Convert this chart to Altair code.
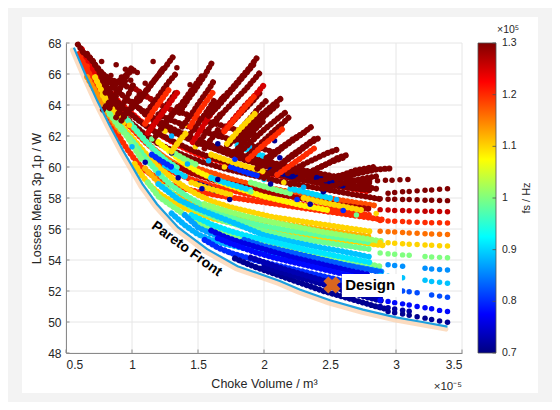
import altair as alt
import pandas as pd

FONT = "Liberation Sans"
TXT = "#262626"
AXC = "#8a8a8a"

X_TICKS = [0.5, 1.0, 1.5, 2.0, 2.5, 3.0, 3.5]
Y_TICKS = [48, 50, 52, 54, 56, 58, 60, 62, 64, 66, 68]
CB_TICKS = [0.7, 0.8, 0.9, 1.0, 1.1, 1.2, 1.3]
CB_LABELS = ["0.7", "0.8", "0.9", "1", "1.1", "1.2", "1.3"]

# Pareto front (volume x1e-5 m^3, losses W)
pareto_v = [0.56, 0.65, 0.735, 0.83, 0.93, 1.08, 1.19, 1.35, 1.57, 1.8, 2.12, 2.27, 2.5, 2.75, 3.0, 3.2, 3.39]
pareto_L = [67.7, 65.9, 64.3, 62.7, 61.1, 58.9, 57.6, 56.1, 54.7, 53.6, 52.65, 52.1, 51.4, 50.8, 50.3, 50.0, 49.7]

# strands: (fs in 1e5 Hz, volumes, losses)
strands_red = [
    (1.2, [0.60, 0.62, 0.67, 0.72, 0.78, 0.84, 0.90, 0.96, 1.02, 1.08, 1.15, 1.25, 1.35, 1.50, 1.70, 1.90, 2.10, 2.30, 2.50, 2.70, 2.90],
          [67.3, 66.9, 66.0, 65.1, 64.0, 63.0, 62.0, 61.2, 60.5, 59.9, 59.5, 59.0, 58.7, 58.4, 58.1, 57.85, 57.6, 57.35, 57.1, 56.85, 56.6]),
    (1.2, [0.64, 0.70, 0.76, 0.82, 0.88, 0.95, 1.02, 1.10, 1.20, 1.30, 1.45, 1.60, 1.80, 2.00, 2.20, 2.40, 2.60, 2.80],
          [66.9, 66.0, 65.1, 64.3, 63.6, 62.9, 62.3, 61.6, 60.9, 60.3, 59.7, 59.3, 58.9, 58.5, 58.2, 57.9, 57.6, 57.3]),
    (1.22, [0.72, 0.78, 0.84, 0.90, 0.98, 1.06, 1.15, 1.25, 1.35, 1.50, 1.65, 1.80, 2.00, 2.20, 2.40, 2.60, 2.80],
           [66.1, 65.4, 64.8, 64.2, 63.6, 63.0, 62.4, 61.9, 61.4, 60.8, 60.4, 60.0, 59.6, 59.3, 59.0, 58.7, 58.4]),
    (1.16, [0.74, 0.80, 0.87, 0.94, 1.00, 1.08, 1.16, 1.25, 1.35, 1.45],
           [65.9, 65.0, 64.0, 63.2, 62.6, 61.9, 61.2, 60.6, 60.1, 59.6]),
    (1.2, [1.15, 1.30, 1.45, 1.60, 1.75, 1.90, 2.05, 2.20, 2.35, 2.50, 2.65, 2.80],
          [60.4, 59.7, 59.2, 58.8, 58.5, 58.2, 57.95, 57.7, 57.5, 57.3, 57.1, 56.9]),
    (1.18, [1.50, 1.65, 1.80, 1.95, 2.10, 2.25, 2.40, 2.55, 2.70, 2.85],
           [59.9, 59.5, 59.1, 58.8, 58.55, 58.3, 58.1, 57.9, 57.7, 57.5]),
    (1.24, [0.62, 0.66, 0.70, 0.75, 0.80, 0.86, 0.92, 0.98],
           [67.6, 67.0, 66.4, 65.7, 65.0, 64.3, 63.6, 63.0]),
    (1.14, [0.66, 0.70, 0.75, 0.80, 0.86, 0.92], [65.8, 65.2, 64.5, 63.7, 62.9, 62.2]),
]
strands_darkred = [
    (1.3, [0.59, 0.63, 0.70, 0.74, 0.78, 0.83, 0.88, 0.95, 1.05, 1.15, 1.30, 1.45, 1.60, 1.80, 2.00, 2.20, 2.40, 2.60, 2.80],
          [67.9, 67.4, 66.9, 66.3, 65.7, 64.9, 64.3, 63.7, 63.0, 62.4, 61.7, 61.1, 60.6, 60.1, 59.7, 59.3, 59.0, 58.7, 58.5]),
    (1.3, [0.75, 0.82, 0.90, 1.00, 1.10, 1.20, 1.35, 1.50, 1.70, 1.90, 2.10, 2.30, 2.50, 2.70, 2.90],
          [65.5, 64.5, 63.6, 62.8, 62.1, 61.5, 60.9, 60.4, 59.9, 59.5, 59.1, 58.8, 58.5, 58.2, 57.9]),
    (1.28, [1.30, 1.45, 1.60, 1.80, 2.00, 2.20, 2.40, 2.60, 2.80],
           [60.2, 59.6, 59.2, 58.8, 58.4, 58.1, 57.8, 57.5, 57.3]),
    (1.3, [1.00, 1.10, 1.20, 1.30, 1.40, 1.55, 1.70, 1.85, 2.00, 2.15, 2.30, 2.45, 2.60],
          [64.2, 63.4, 62.8, 62.3, 61.9, 61.4, 61.0, 60.6, 60.3, 60.0, 59.7, 59.45, 59.2]),
    (1.3, [0.78, 0.84, 0.90, 0.96], [66.0, 65.6, 65.5, 65.2]),
    (1.3, [0.66, 0.72, 0.80, 0.88, 0.97, 1.07, 1.18, 1.30, 1.45, 1.60, 1.75, 1.90, 2.05, 2.20, 2.35, 2.50, 2.65, 2.80],
          [67.3, 66.6, 65.8, 65.0, 64.3, 63.7, 63.1, 62.5, 61.9, 61.4, 61.0, 60.6, 60.3, 60.0, 59.7, 59.45, 59.2, 58.95]),
    (1.3, [1.50, 1.65, 1.80, 1.95, 2.10, 2.25, 2.40, 2.55, 2.70, 2.85],
          [61.6, 61.1, 60.6, 60.2, 59.85, 59.55, 59.3, 59.05, 58.8, 58.6]),
    (1.3, [1.20, 1.30, 1.40, 1.50, 1.60, 1.70, 1.80, 1.90, 2.00, 2.10],
          [63.4, 63.0, 62.7, 62.4, 62.15, 61.9, 61.65, 61.4, 61.15, 60.9]),
    (1.3, [1.38, 1.46, 1.55, 1.65, 1.75, 1.85, 1.95], [63.5, 63.25, 63.0, 62.75, 62.5, 62.25, 62.0]),
    (1.28, [1.00, 1.08, 1.16, 1.24, 1.32], [65.2, 64.7, 64.3, 63.9, 63.6]),
]
strands_yellow = [
    (1.1, [1.02, 1.08, 1.15, 1.22, 1.30, 1.40, 1.50, 1.60, 1.70, 1.80, 1.90, 2.00, 2.15, 2.30, 2.45, 2.60, 2.75, 2.90],
          [60.2, 59.4, 58.7, 58.2, 57.8, 57.35, 57.0, 56.7, 56.5, 56.3, 56.15, 56.0, 55.8, 55.6, 55.4, 55.25, 55.1, 54.95]),
    (1.1, [0.78, 0.84, 0.90, 0.96, 1.02, 1.10, 1.20, 1.30, 1.40, 1.50, 1.60, 1.75, 1.90, 2.05, 2.20, 2.40, 2.60, 2.80],
          [64.6, 63.7, 62.9, 62.3, 61.7, 60.9, 60.0, 59.3, 58.7, 58.2, 57.8, 57.4, 57.1, 56.8, 56.6, 56.35, 56.1, 55.85]),
    (1.08, [1.20, 1.30, 1.40, 1.50, 1.60, 1.70, 1.85, 2.00, 2.15, 2.30, 2.50],
           [61.6, 60.9, 60.2, 59.7, 59.3, 58.9, 58.5, 58.1, 57.8, 57.5, 57.2]),
    (1.1, [0.72, 0.77, 0.82, 0.88, 0.94], [65.8, 64.9, 64.1, 63.4, 62.8]),
    (1.12, [1.10, 1.20, 1.30, 1.40, 1.50, 1.60, 1.75, 1.90, 2.05, 2.20, 2.40, 2.60, 2.80],
           [59.9, 59.0, 58.35, 57.85, 57.5, 57.25, 56.95, 56.7, 56.45, 56.25, 56.0, 55.75, 55.5]),
]
strands_green = [
    (1.0, [1.12, 1.20, 1.30, 1.40, 1.50, 1.60, 1.70, 1.80, 1.90, 2.00, 2.15, 2.30, 2.45, 2.60, 2.75, 2.90],
          [59.0, 58.1, 57.5, 56.9, 56.4, 56.0, 55.7, 55.45, 55.2, 55.0, 54.75, 54.5, 54.3, 54.05, 53.8, 53.55]),
    (0.98, [0.88, 0.95, 1.02, 1.10, 1.20, 1.30, 1.40, 1.50, 1.65, 1.80, 2.00, 2.20, 2.40, 2.60, 2.80],
           [63.0, 62.2, 61.5, 60.6, 59.6, 58.8, 58.2, 57.7, 57.1, 56.6, 56.2, 55.9, 55.65, 55.4, 55.15]),
    (1.01, [1.55, 1.70, 1.85, 2.00, 2.15, 2.30, 2.45, 2.60, 2.75, 2.90],
           [57.6, 57.2, 56.85, 56.55, 56.3, 56.05, 55.8, 55.6, 55.4, 55.2]),
    (0.97, [0.95, 1.02, 1.10, 1.18, 1.26, 1.35], [63.2, 62.5, 61.7, 61.0, 60.4, 59.9]),
    (0.99, [1.25, 1.35, 1.45, 1.55, 1.70, 1.85, 2.00, 2.20, 2.40, 2.60, 2.80],
           [58.7, 57.95, 57.4, 57.0, 56.5, 56.15, 55.85, 55.5, 55.2, 54.95, 54.7]),
    (1.0, [0.80, 0.85, 0.90, 0.96, 1.02, 1.08], [63.9, 63.2, 62.6, 62.0, 61.2, 60.4]),
]
strands_cyan = [
    (0.88, [1.30, 1.40, 1.50, 1.60, 1.70, 1.80, 1.90, 2.00, 2.15, 2.30, 2.45, 2.60, 2.75, 2.90],
           [57.0, 56.25, 55.65, 55.3, 55.05, 54.85, 54.65, 54.5, 54.15, 53.85, 53.5, 53.2, 52.95, 52.7]),
    (0.89, [1.20, 1.35, 1.50, 1.65, 1.80, 2.00, 2.20, 2.40, 2.60, 2.80],
           [58.9, 57.9, 57.3, 56.8, 56.3, 55.6, 55.2, 54.85, 54.55, 54.2]),
    (0.91, [1.45, 1.60, 1.75, 1.90, 2.05, 2.20, 2.35, 2.50, 2.65, 2.80],
           [56.9, 56.3, 55.85, 55.5, 55.2, 54.9, 54.6, 54.35, 54.1, 53.85]),
    (0.87, [1.40, 1.50, 1.60, 1.70, 1.85, 2.00, 2.15, 2.30, 2.50, 2.70, 2.90],
           [56.9, 56.1, 55.7, 55.4, 55.1, 54.85, 54.55, 54.25, 53.9, 53.55, 53.25]),
]
strands_blue = [
    (0.8, [1.55, 1.65, 1.75, 1.85, 1.95, 2.05, 2.15, 2.25, 2.35, 2.45, 2.55, 2.65, 2.75, 2.85],
          [55.3, 54.8, 54.45, 54.2, 53.95, 53.75, 53.55, 53.35, 53.15, 52.95, 52.75, 52.55, 52.35, 52.15]),
    (0.83, [1.85, 2.00, 2.15, 2.30, 2.45, 2.60, 2.75, 2.90], [55.3, 54.9, 54.6, 54.3, 54.0, 53.7, 53.45, 53.2]),
    (0.76, [1.60, 1.70, 1.80, 1.90, 2.00, 2.10, 2.20, 2.35, 2.50, 2.65, 2.80],
           [55.9, 55.5, 55.2, 54.95, 54.7, 54.45, 54.2, 53.9, 53.6, 53.3, 53.05]),
    (0.78, [1.65, 1.75, 1.85, 1.95, 2.10, 2.25, 2.40, 2.55, 2.70, 2.85],
           [55.4, 55.05, 54.75, 54.45, 54.1, 53.8, 53.5, 53.2, 52.9, 52.6]),
]
strands_navy = [
    (0.71, [1.78, 1.86, 1.95, 2.05, 2.15, 2.25, 2.35, 2.45, 2.55, 2.65, 2.75, 2.85, 2.92],
           [54.1, 53.8, 53.5, 53.2, 52.9, 52.6, 52.3, 52.0, 51.75, 51.5, 51.25, 51.0, 50.85]),
    (0.72, [2.00, 2.10, 2.20, 2.30, 2.40, 2.50, 2.60, 2.70, 2.80, 2.90],
           [53.55, 53.3, 53.05, 52.8, 52.55, 52.3, 52.05, 51.8, 51.55, 51.35]),
    (0.73, [1.90, 2.00, 2.10, 2.20, 2.30, 2.40, 2.50, 2.60, 2.70, 2.80, 2.90],
           [54.15, 53.85, 53.55, 53.3, 53.05, 52.8, 52.55, 52.3, 52.05, 51.8, 51.6]),
]
strands_mixed = [
    (0.9, [1.25, 1.33, 1.41], [60.1, 59.7, 59.35]),
    (0.71, [1.50, 1.58, 1.66], [58.9, 58.65, 58.4]),
    (0.9, [1.60, 1.70, 1.80, 1.90], [59.3, 59.0, 58.75, 58.5]),
    (1.1, [1.45, 1.55, 1.65, 1.75], [59.0, 58.7, 58.45, 58.2]),
    (0.8, [1.75, 1.85, 1.95], [60.0, 59.7, 59.45]),
    (1.0, [1.90, 2.00, 2.10, 2.20], [59.0, 58.75, 58.5, 58.3]),
    (0.71, [2.05, 2.15, 2.25], [59.8, 59.55, 59.3]),
    (0.9, [2.20, 2.30, 2.40, 2.50], [58.6, 58.4, 58.2, 58.0]),
    (1.1, [2.30, 2.45, 2.60, 2.75], [58.0, 57.7, 57.45, 57.2]),
    (0.71, [2.40, 2.50, 2.60], [59.3, 59.05, 58.8]),
    (1.0, [1.30, 1.40, 1.50], [61.0, 60.5, 60.1]),
    (0.8, [1.15, 1.22, 1.30], [60.8, 60.4, 60.0]),
    (1.1, [1.60, 1.70, 1.80, 1.90, 2.00], [60.8, 60.5, 60.2, 59.95, 59.7]),
    (0.9, [1.80, 1.90, 2.00], [61.4, 61.0, 60.7]),
]
spikes = [
    (1.3, [0.83, 0.88, 0.93, 0.97, 1.01], [63.8, 64.6, 65.4, 66.0, 66.6]),
    (1.3, [0.88, 0.93, 0.98, 1.02], [63.2, 64.0, 64.8, 65.5]),
    (1.3, [0.78, 0.84, 0.90, 0.96], [63.7, 64.3, 65.0, 65.7]),
    (1.3, [0.80, 0.86, 0.92, 0.98, 1.04], [64.8, 65.2, 65.7, 66.1, 66.3]),
    (1.3, [0.92, 0.97, 1.02, 1.06], [63.0, 63.6, 64.2, 64.7]),
    (1.3, [1.06, 1.12, 1.18, 1.24, 1.31], [64.3, 65.0, 65.7, 66.3, 67.1]),
    (1.3, [1.10, 1.16, 1.22, 1.28, 1.33], [63.4, 64.1, 64.8, 65.5, 66.0]),
    (1.3, [1.15, 1.22, 1.28, 1.34], [62.6, 63.5, 64.2, 64.9]),
    (1.3, [1.00, 1.06, 1.12, 1.18, 1.24], [63.8, 64.4, 65.1, 65.7, 66.4]),
    (1.25, [1.12, 1.18, 1.24, 1.30, 1.36], [62.2, 62.9, 63.6, 64.3, 65.0]),
    (1.3, [1.18, 1.24, 1.30, 1.36], [62.0, 62.7, 63.4, 64.0]),
    (1.3, [1.36, 1.42, 1.48, 1.55, 1.61], [63.5, 64.3, 65.0, 65.9, 66.8]),
    (1.3, [1.38, 1.45, 1.52, 1.58, 1.63], [62.6, 63.4, 64.3, 65.0, 65.7]),
    (1.3, [1.42, 1.50, 1.57, 1.63], [61.9, 62.8, 63.6, 64.4]),
    (1.3, [1.30, 1.36, 1.42, 1.48, 1.54], [63.3, 63.9, 64.6, 65.3, 66.0]),
    (1.25, [1.46, 1.52, 1.58, 1.64, 1.70], [61.6, 62.4, 63.2, 63.9, 64.6]),
    (1.3, [1.50, 1.56, 1.62, 1.68], [61.5, 62.2, 62.9, 63.5]),
    (1.3, [1.55, 1.60, 1.66], [61.2, 61.8, 62.5]),
    (1.3, [1.61, 1.68, 1.75, 1.82, 1.89, 1.96], [63.7, 64.4, 65.0, 65.7, 66.4, 67.2]),
    (1.3, [1.62, 1.70, 1.78, 1.86, 1.93, 1.98], [62.8, 63.6, 64.3, 65.0, 65.7, 66.2]),
    (1.3, [1.66, 1.75, 1.84, 1.92, 1.98], [62.0, 62.8, 63.6, 64.3, 64.9]),
    (1.3, [1.58, 1.65, 1.72, 1.79, 1.86, 1.92], [63.3, 63.9, 64.6, 65.3, 66.0, 66.6]),
    (1.3, [1.72, 1.80, 1.88, 1.96, 2.02], [61.4, 62.2, 63.0, 63.8, 64.3]),
    (1.25, [1.70, 1.78, 1.86, 1.94, 2.00], [62.4, 63.2, 64.0, 64.7, 65.3]),
    (1.3, [1.78, 1.86, 1.94, 2.00], [61.0, 61.7, 62.5, 63.0]),
    (1.3, [1.74, 1.84, 1.94, 2.04, 2.14], [61.5, 62.3, 63.1, 63.8, 64.5]),
    (1.3, [1.80, 1.90, 2.00, 2.10, 2.16], [60.8, 61.6, 62.4, 63.1, 63.5]),
    (1.3, [1.86, 1.96, 2.06, 2.14, 2.20], [60.6, 61.4, 62.2, 62.8, 63.3]),
    (1.3, [1.82, 1.92, 2.02, 2.10], [61.8, 62.6, 63.4, 64.0]),
    (1.3, [1.95, 2.05, 2.15, 2.25, 2.36], [59.9, 60.6, 61.3, 61.9, 62.6]),
    (1.3, [2.00, 2.10, 2.20, 2.30, 2.38], [59.3, 60.0, 60.7, 61.3, 61.8]),
    (1.3, [2.05, 2.15, 2.25, 2.34, 2.42], [59.6, 60.3, 60.9, 61.5, 61.9]),
    (1.3, [2.02, 2.12, 2.22, 2.32], [60.6, 61.2, 61.8, 62.3]),
    (1.3, [2.18, 2.28, 2.38, 2.48, 2.58], [59.6, 60.1, 60.5, 60.9, 61.2]),
    (1.3, [2.20, 2.30, 2.40, 2.50, 2.60], [58.9, 59.4, 59.9, 60.3, 60.6]),
    (1.3, [2.28, 2.38, 2.48, 2.56, 2.64], [59.4, 59.8, 60.2, 60.6, 60.8]),
    (1.3, [2.40, 2.50, 2.60, 2.70, 2.83], [59.0, 59.3, 59.5, 59.8, 60.0]),
    (1.3, [2.45, 2.55, 2.65, 2.75, 2.85], [58.6, 58.85, 59.05, 59.25, 59.4]),
    (1.3, [2.55, 2.65, 2.75, 2.86, 2.95], [59.2, 59.45, 59.65, 59.85, 59.9]),
    (1.2, [1.10, 1.16, 1.22, 1.28], [62.8, 63.6, 64.3, 65.0]),
    (1.2, [1.44, 1.50, 1.56, 1.62], [62.6, 63.5, 64.2, 64.9]),
    (1.2, [1.70, 1.78, 1.86, 1.93], [62.3, 63.1, 63.9, 64.6]),
    (1.2, [1.88, 1.98, 2.08, 2.16], [60.5, 61.3, 62.0, 62.6]),
    (1.2, [2.10, 2.20, 2.30, 2.38], [59.5, 60.1, 60.7, 61.2]),
    (1.1, [1.72, 1.80, 1.88, 1.95], [61.5, 62.3, 63.0, 63.6]),
    (1.1, [1.30, 1.36, 1.42], [61.0, 61.7, 62.3]),
]

# discrete rows at large volume
grid_cols = [2.88, 2.94, 2.99, 3.05, 3.10, 3.16, 3.22, 3.27, 3.33, 3.39]
grid_rows = [
    (1.3, 1, [58.30, 58.35, 58.40, 58.42, 58.46, 58.50, 58.52, 58.56, 58.60]),
    (1.3, 0, [57.95, 57.92, 57.92, 57.90, 57.90, 57.88, 57.86, 57.86, 57.84, 57.83]),
    (1.26, 0, [57.25, 57.22, 57.20, 57.20, 57.18, 57.16, 57.15, 57.15, 57.13, 57.12]),
    (1.2, 0, [56.55, 56.52, 56.50, 56.48, 56.45, 56.44, 56.42, 56.40, 56.40, 56.38]),
    (1.16, 0, [55.85, 55.82, 55.80, 55.77, 55.74, 55.72, 55.70, 55.68, 55.66, 55.65]),
    (1.1, 0, [55.15, 55.12, 55.08, 55.05, 55.02, 55.00, 54.97, 54.95, 54.92, 54.90]),
    (1.0, 0, [54.45, 54.40, 54.37, 54.33, 54.30, None, 54.23, 54.20, 54.17, 54.15]),
    (0.86, 1, [53.70, 53.65, 53.60, None, None, 53.47, 53.42, 53.38, 53.35]),
    (0.89, 0, [53.00, 52.95, 52.90, 52.85, None, None, 52.70, 52.62, 52.56, 52.50]),
    (0.82, 0, [52.20, 52.15, 52.08, 52.00, 51.95, 51.88, None, 51.74, 51.67, 51.60]),
    (0.78, 0, [51.40, 51.33, 51.25, 51.17, 51.10, 51.00, 50.92, 50.85, 50.75, 50.68]),
    (0.72, 0, [51.00, 50.92, 50.84, 50.76, 50.70]),
    (0.71, 1, [50.68, 50.60, 50.52, 50.43, 50.34, 50.25, 50.16, 50.07, 49.98]),
]
row_top_v = [2.62, 2.68, 2.74, 2.80, 2.86, 2.92, 2.97, 3.03, 3.09]
row_top_L = [59.0, 59.05, 59.05, 59.1, 59.12, 59.15, 59.15, 59.18, 59.2]

mix_v = [1.65, 2.08, 2.12, 1.95, 1.53, 1.65, 1.74, 1.84, 1.67, 1.89, 1.30, 1.42, 1.20, 1.35, 1.58, 1.78, 2.00, 2.20, 2.30, 2.45,
         2.55, 2.25, 1.90, 2.05, 1.10, 1.00, 0.92, 1.15, 1.48, 1.70, 2.35, 2.60, 2.70, 2.85, 1.25, 1.40, 1.30, 2.15, 0.83, 0.98]
mix_L = [61.5, 61.7, 60.6, 59.9, 58.6, 59.2, 57.9, 61.7, 62.2, 61.3, 60.9, 60.2, 59.6, 59.3, 60.4, 60.5, 59.2, 59.4, 58.7, 58.4,
         57.9, 57.9, 58.4, 58.9, 60.3, 61.3, 62.4, 61.8, 61.3, 60.0, 57.6, 57.2, 56.9, 57.0, 62.3, 62.7, 62.0, 59.0, 63.4, 62.7]
mix_fs = [0.71, 0.71, 0.72, 0.71, 0.72, 0.71, 0.71, 0.8, 0.88, 0.88, 0.71, 0.88, 0.88, 0.72, 0.88, 0.8, 0.9, 0.71, 0.88, 0.71,
          0.88, 0.8, 0.99, 0.72, 0.72, 0.88, 0.99, 0.99, 1.1, 1.1, 0.72, 0.8, 0.99, 1.1, 1.1, 1.1, 0.88, 1.1, 0.99, 1.1]
top_v = [0.77, 0.88, 0.95, 1.04, 1.16, 1.34, 0.84, 0.92, 0.99, 1.10, 0.66, 1.22, 1.44]
top_L = [66.8, 66.6, 66.3, 66.1, 66.8, 66.4, 65.9, 65.8, 65.6, 65.4, 66.5, 66.2, 65.3]
top_fs = [1.3, 1.3, 1.3, 1.3, 1.3, 1.3, 1.3, 1.3, 1.3, 1.3, 1.2, 1.3, 1.3]

design_v, design_L = 2.515, 52.39
design_box = {"v": [2.59], "v2": [3.045], "L": [51.62], "L2": [53.1]}
pareto_label = {"v": [1.414], "L": [54.71], "t": ["Pareto Front"]}

# jet colour map stops (fs in 1e5 Hz)
JET_FS = [0.7, 0.775, 0.925, 1.075, 1.225, 1.3]
JET_COL = ["#000080", "#0000ff", "#00ffff", "#ffff00", "#ff0000", "#800000"]

# ---------------- build tables ----------------
def strand_frame(group, tag):
    recs = []
    for k, (fs, xs, ys) in enumerate(group):
        for j, (x, y) in enumerate(zip(xs, ys)):
            recs.append({"v": x, "L": y, "fs": fs, "sid": f"{tag}{k}", "o": j})
    return pd.DataFrame(recs)

grid_recs = []
for fs, start, ys in grid_rows:
    for j, y in enumerate(ys):
        if y is not None:
            grid_recs.append({"v": grid_cols[start + j], "L": y, "fs": fs})
for x, y in zip(row_top_v, row_top_L):
    grid_recs.append({"v": x, "L": y, "fs": 1.3})
grid_df = pd.DataFrame(grid_recs)
dots_df = pd.DataFrame({"v": mix_v + top_v, "L": mix_L + top_L, "fs": mix_fs + top_fs})
pareto_df = pd.DataFrame({"v": pareto_v, "L": pareto_L, "o": list(range(len(pareto_v)))})

XS = alt.Scale(domain=[0.5, 3.5], nice=False, zero=False)
YS = alt.Scale(domain=[48, 68], nice=False, zero=False)
X_AXIS = alt.Axis(values=X_TICKS, format=".1~f", title="Choke Volume / m³", grid=False, ticks=False, tickSize=0,
                  domainColor=AXC, domainWidth=1, labelFont=FONT, labelFontSize=12, labelColor=TXT, labelPadding=6,
                  titleFont=FONT, titleFontSize=12.5, titleColor=TXT, titlePadding=7, titleFontWeight="normal", zindex=1)
Y_AXIS = alt.Axis(values=Y_TICKS, format="d", title="Losses Mean 3p 1p / W", grid=False, ticks=False, tickSize=0,
                  domainColor=AXC, domainWidth=1, labelFont=FONT, labelFontSize=12, labelColor=TXT, labelPadding=5,
                  titleFont=FONT, titleFontSize=12.5, titleColor=TXT, titlePadding=4, titleFontWeight="normal", zindex=1)

def X():
    return alt.X("v:Q", scale=XS, axis=X_AXIS)

def Y(field="L:Q"):
    return alt.Y(field, scale=YS, axis=Y_AXIS)

CSCALE = alt.Scale(domain=JET_FS, range=JET_COL, interpolate="rgb")
COLOR = alt.Color("fs:Q", scale=CSCALE, legend=None)

one = pd.DataFrame({"a": [0]})
panel = alt.Chart(one).mark_rect(color="white").encode(
    x=alt.value(-44), x2=alt.value(472), y=alt.value(-26), y2=alt.value(350))
gridx = alt.Chart(pd.DataFrame({"v": X_TICKS})).mark_rule(color="#e6e6e6", strokeWidth=1).encode(x=X())
gridy = alt.Chart(pd.DataFrame({"L": Y_TICKS})).mark_rule(color="#e6e6e6", strokeWidth=1).encode(y=Y())
tickx = alt.Chart(pd.DataFrame({"v": X_TICKS})).mark_rule(color=AXC).encode(x=X(), y=alt.value(310), y2=alt.value(306.5))
ticky = alt.Chart(pd.DataFrame({"L": Y_TICKS})).mark_rule(color=AXC).encode(y=Y(), x=alt.value(0), x2=alt.value(3.5))

glow = alt.Chart(pareto_df).mark_line(color="#fbd2ae", strokeWidth=5, xOffset=-1.5, yOffset=2.5,
                                      strokeCap="round", opacity=0.75).encode(x=X(), y=Y(), order="o:Q")
front = alt.Chart(pareto_df).mark_line(color="#1d9fde", strokeWidth=2.2).encode(x=X(), y=Y(), order="o:Q")

def strand_layer(group, tag):
    return alt.Chart(strand_frame(group, tag)).mark_line(
        strokeWidth=6, strokeDash=[0.1, 4.4], strokeCap="round", strokeJoin="round").encode(
        x=X(), y=Y(), color=COLOR, detail="sid:N", order="o:Q")

layers = [panel, gridx, gridy, glow,
          strand_layer(strands_red, "r"), strand_layer(strands_darkred, "d"),
          strand_layer(strands_yellow, "y"), strand_layer(strands_green, "g"),
          strand_layer(strands_cyan, "c"), strand_layer(strands_blue, "b"),
          strand_layer(strands_navy, "n"), strand_layer(strands_mixed, "m"),
          alt.Chart(dots_df).mark_circle(size=30, opacity=1).encode(x=X(), y=Y(), color=COLOR),
          strand_layer(spikes, "s"),
          alt.Chart(grid_df).mark_circle(size=30, opacity=1).encode(x=X(), y=Y(), color=COLOR),
          front, tickx, ticky]

# ---- colour bar (jet gradient spanning the same height as the plot) ----
jet_grad = alt.LinearGradient(
    gradient="linear", x1=0, x2=0, y1=1, y2=0,
    stops=[alt.GradientStop(offset=(f - JET_FS[0]) / (JET_FS[-1] - JET_FS[0]), color=c)
           for f, c in zip(JET_FS, JET_COL)])
cbar = alt.Chart(one).mark_rect(color=jet_grad, stroke="#505050", strokeWidth=0.8).encode(
    x=alt.value(412), x2=alt.value(430), y=alt.value(0), y2=alt.value(310))
cb_df = pd.DataFrame({"fs": CB_TICKS, "t": CB_LABELS})
cb_pos = "48 + (datum.fs - 0.7) / 0.6 * 20"
cb_ticks = alt.Chart(cb_df).transform_calculate(Lc=cb_pos).mark_rule(color="#505050", strokeWidth=0.8).encode(
    y=Y("Lc:Q"), x=alt.value(426.5), x2=alt.value(430))
cb_text = alt.Chart(cb_df).transform_calculate(Lc=cb_pos).mark_text(
    align="left", baseline="middle", font=FONT, fontSize=10.5, color=TXT).encode(
    y=Y("Lc:Q"), x=alt.value(436), text="t:N")

pareto_text = alt.Chart(pd.DataFrame(pareto_label)).mark_text(
    angle=36, fontSize=14, fontWeight="bold", font=FONT, color="black", align="center", baseline="middle"
).encode(x=X(), y=Y(), text="t:N")
dbox = alt.Chart(pd.DataFrame(design_box)).mark_rect(color="white").encode(x=X(), x2="v2:Q", y=Y(), y2="L2:Q")
dmark = alt.Chart(pd.DataFrame({"v": [design_v], "L": [design_L]})).mark_point(
    shape="cross", angle=45, filled=True, size=300, color="#d9661f", opacity=1).encode(x=X(), y=Y())
dtext = alt.Chart(pd.DataFrame({"v": [2.615], "L": [design_L], "t": ["Design"]})).mark_text(
    align="left", baseline="middle", fontSize=15, fontWeight="bold", font=FONT, color="black"
).encode(x=X(), y=Y(), text="t:N")

def label(txt, x, y, **kw):
    return alt.Chart(pd.DataFrame({"t": [txt]})).mark_text(font=FONT, color=TXT, **kw).encode(
        x=alt.value(x), y=alt.value(y), text="t:N")

fs_title = label("fs / Hz", 461, 155, angle=270, fontSize=11, align="center", baseline="middle")
cb_exp = label("×10⁵", 431, -10, fontSize=10.5, align="left", baseline="alphabetic")
x_exp = label("×10⁻⁵", 396, 347, fontSize=11.5, align="right", baseline="alphabetic")

layers += [pareto_text, dbox, dmark, dtext, cbar, cb_ticks, cb_text, fs_title, cb_exp, x_exp]

chart = alt.layer(*layers).properties(
    width=396, height=310,
    padding={"left": 58, "top": 35, "right": 90, "bottom": 49},
    autosize=alt.AutoSizeParams(type="none"),
).configure(background="#f3f3f3").configure_view(stroke=None)

chart.save("out.html", embed_options={"renderer": "svg", "actions": False})
